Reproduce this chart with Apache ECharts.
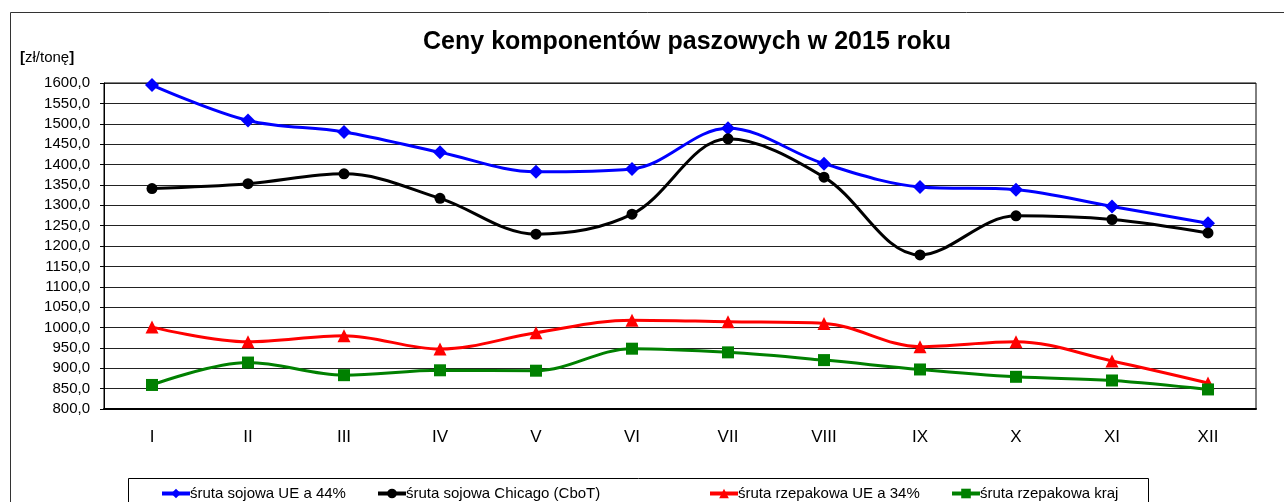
<!DOCTYPE html>
<html>
<head>
<meta charset="utf-8">
<script src="https://cdn.jsdelivr.net/npm/echarts@6/dist/echarts.min.js"></script>
<style>
  html, body { margin: 0; padding: 0; background: #fff; }
  #chart { width: 1284px; height: 502px; }
</style>
</head>
<body>
<div id="chart"></div>
<script>
const months = ["I", "II", "III", "IV", "V", "VI", "VII", "VIII", "IX", "X", "XI", "XII"];

const sojaUE = [1595, 1508, 1480, 1430, 1382, 1389, 1489, 1402, 1345, 1338, 1297, 1256];
const sojaChicago = [1341, 1353, 1377, 1317, 1229, 1278, 1463, 1369, 1178, 1274, 1265, 1232];
const rzepakUE = [1001, 965, 980, 947, 987, 1018, 1014, 1010, 953, 965, 918, 864];
const rzepakKraj = [859, 914, 883, 895, 894, 948, 939, 920, 897, 879, 870, 848];

const seriesNames = [
  "śruta sojowa UE a 44%",
  "śruta sojowa Chicago (CboT)",
  "śruta rzepakowa UE a 34%",
  "śruta rzepakowa kraj",
];
const seriesColors = ["#0000ff", "#000000", "#ff0000", "#008000"];
const seriesSymbols = ["diamond", "circle", "triangle", "rect"];
const seriesData = [sojaUE, sojaChicago, rzepakUE, rzepakKraj];
const symbolSizes = [14, 11, 13, 12];
const legendLeft = [155, 371, 703, 945];

const font = "Liberation Sans, Arial, sans-serif";

const chart = echarts.init(document.getElementById("chart"));

chart.setOption({
  animation: false,
  textStyle: { fontFamily: font },
  title: {
    text: "Ceny komponentów paszowych w 2015 roku",
    left: 682,
    top: 25,
    textAlign: "center",
    textStyle: { fontSize: 25, fontWeight: "bold", color: "#000", fontFamily: font },
  },
  graphic: [
    {
      type: "rect",
      shape: { x: 10.5, y: 12.5, width: 1300, height: 520 },
      style: { fill: null, stroke: "#333", lineWidth: 1 },
      silent: true,
    },
    {
      type: "rect",
      shape: { x: 128.5, y: 478.5, width: 1020, height: 40 },
      style: { fill: null, stroke: "#000", lineWidth: 1 },
      silent: true,
    },
    {
      type: "text",
      left: 20,
      top: 50,
      style: {
        text: "{b|[}zł/tonę{b|]}",
        font: "15px " + font,
        fill: "#000",
        rich: { b: { fontWeight: "bold", fontSize: 15, fontFamily: font } },
      },
    },
  ],
  legend: seriesNames.map((name, i) => ({
    data: [name],
    left: legendLeft[i],
    top: 481,
    itemWidth: 28,
    itemHeight: 12,
    itemGap: 0,
    lineStyle: { width: 4 },
    textStyle: { fontSize: 15, color: "#000", fontFamily: font, padding: [0, 0, 0, -5] },
  })),
  grid: { left: 104, top: 83, right: 28, bottom: 93, show: true, borderColor: "#000", borderWidth: 1 },
  xAxis: {
    type: "category",
    data: months,
    boundaryGap: true,
    axisLine: { lineStyle: { color: "#000", width: 2 } },
    axisTick: { length: 5, lineStyle: { color: "#000" } },
    axisLabel: { fontSize: 17, color: "#000", margin: 20 },
  },
  yAxis: {
    type: "value",
    min: 800,
    max: 1600,
    interval: 50,
    axisLine: { show: true, lineStyle: { color: "#000", width: 1 } },
    axisTick: { show: true, length: 4, lineStyle: { color: "#000" } },
    axisLabel: {
      fontSize: 15,
      color: "#000",
      margin: 14,
      formatter: (v) => v.toFixed(1).replace(".", ","),
    },
    splitLine: { lineStyle: { color: "#222", width: 1 } },
  },
  series: seriesNames.map((name, i) => ({
    name,
    type: "line",
    data: seriesData[i],
    smooth: 0.35,
    symbol: seriesSymbols[i],
    symbolSize: symbolSizes[i],
    lineStyle: { color: seriesColors[i], width: 3 },
    itemStyle: { color: seriesColors[i] },
  })),
});
</script>
</body>
</html>
